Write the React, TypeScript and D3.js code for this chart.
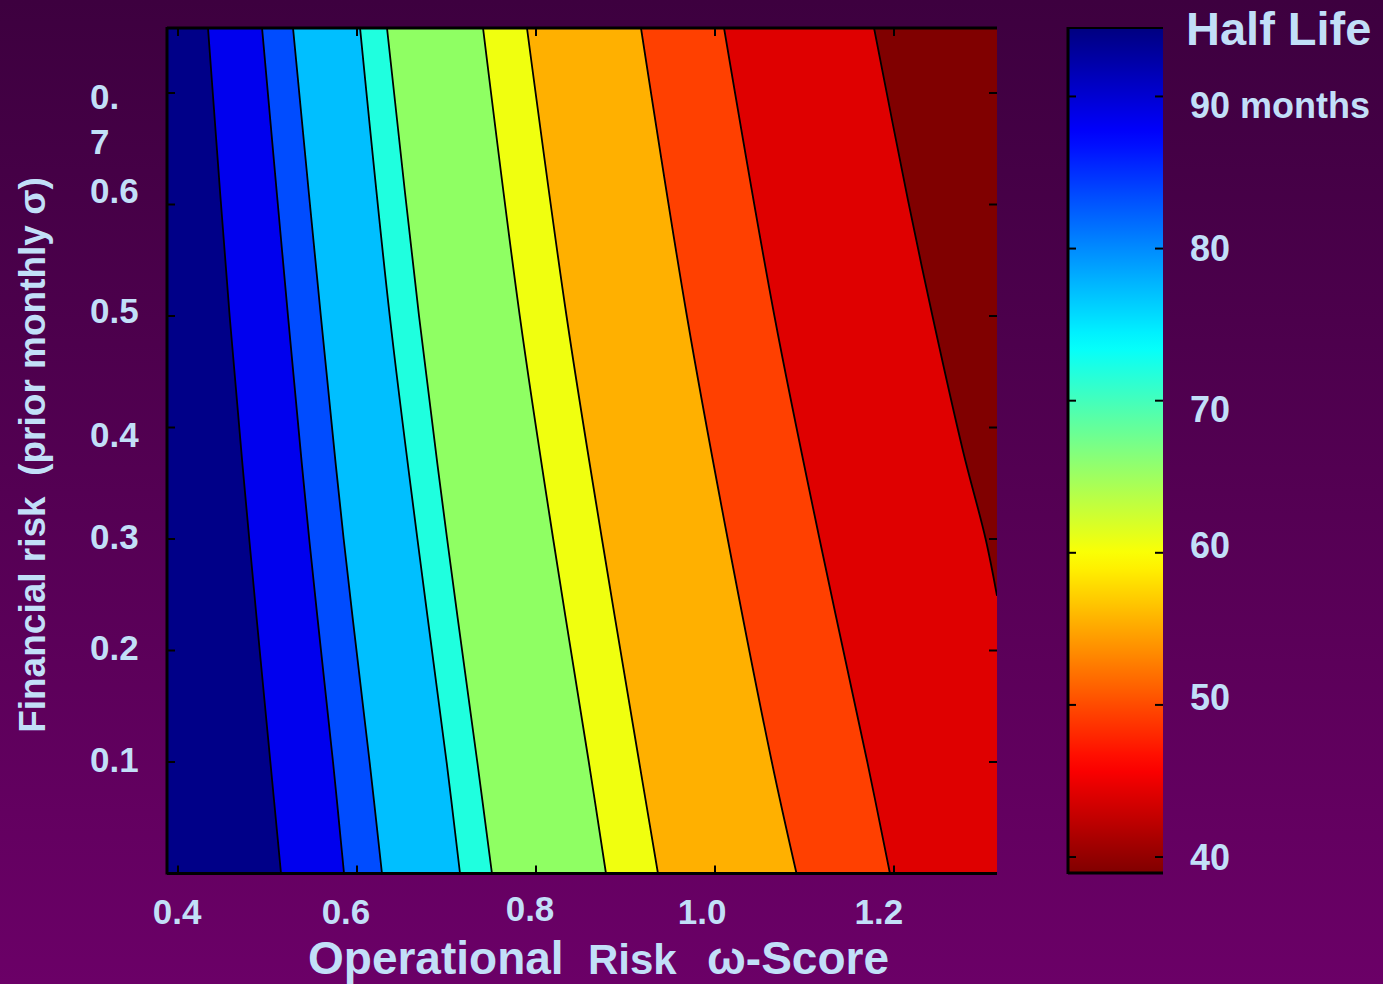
import React from 'react';
import * as d3 from 'd3';

// ---- data ----
// contour boundaries: omega (x) at given sigma (y) levels
const sigmaLevels = [0, 0.1, 0.3, 0.5, 0.7583];
const boundary1 = [0.5151, 0.5032, 0.4796, 0.4577, 0.4335];
const boundary2 = [0.5855, 0.5732, 0.5466, 0.5229, 0.4939];
const boundary3 = [0.6279, 0.6141, 0.5851, 0.5596, 0.5285];
const boundary4 = [0.7151, 0.7001, 0.6675, 0.6366, 0.6034];
const boundary5 = [0.7508, 0.7344, 0.7007, 0.6693, 0.6335];
const boundary6 = [0.8782, 0.859, 0.8192, 0.7819, 0.7408];
const boundary7 = [0.9363, 0.9153, 0.8737, 0.8341, 0.7899];
const boundary8 = [1.0911, 1.0635, 1.0142, 0.9686, 0.9173];
const boundary9 = [1.1955, 1.1702, 1.1168, 1.0664, 1.0101];
const boundary10Sigma = [0.249, 0.3, 0.379, 0.5, 0.604, 0.7583];
const boundary10 = [1.3151, 1.3024, 1.2771, 1.243, 1.2156, 1.1777];

// half-life bands, left (longest) to right (shortest)
const bandColors = [
  '#000088', '#0000EE', '#004CFF', '#00BFFF', '#1FFFDF', '#8FFF63',
  '#F0FF0F', '#FFB000', '#FF4000', '#DF0000', '#800000',
];

const xTicks = [0.4, 0.6, 0.8, 1.0, 1.2];
const xTickLabels = ['0.4', '0.6', '0.8', '1.0', '1.2'];
const xLabelAt = [0.3989, 0.5877, 0.7933, 0.9855, 1.1832];
const xLabelBaselineShift = [0, 0, -3, 0, 0];

const yTicks = [0.1, 0.2, 0.3, 0.4, 0.5, 0.6, 0.7];
const yTickLabels = ['0.1', '0.2', '0.3', '0.4', '0.5', '0.6', '0.7'];
const yLabelAt = [0.102, 0.203, 0.302, 0.394, 0.5045, 0.613, 0.697];

const cbTicks = [40, 50, 60, 70, 80, 90];
const cbTickLabels = ['40', '50', '60', '70', '80', '90 months'];
const cbLabelAt = [40, 50.5, 60.5, 69.4, 80, 89.4];
const cbDomain = [38.95, 94.5];

const xDomain = [0.3877, 1.3151];
const yDomain = [0, 0.7583];

const textColor = '#C2DFF8';
const font = '"Liberation Sans", Arial, sans-serif';

function jet(t: number): string {
  const c = (v: number) => Math.max(0, Math.min(1, v));
  const r = c(1.5 - Math.abs(4 * t - 3));
  const g = c(1.5 - Math.abs(4 * t - 2));
  const b = c(1.5 - Math.abs(4 * t - 1));
  return d3.rgb(r * 255, g * 255, b * 255).formatHex();
}

export default function App() {
  const W = 1383, H = 984;
  const left = 167, right = 997, top = 28, bottom = 873.5;
  const x = d3.scaleLinear().domain(xDomain).range([left, right]);
  const y = d3.scaleLinear().domain(yDomain).range([bottom, top]);
  const cbLeft = 1068, cbRight = 1163;
  const cb = d3.scaleLinear().domain(cbDomain).range([873, 28]);

  const boundaries: [number, number][][] = [
    boundary1, boundary2, boundary3, boundary4, boundary5,
    boundary6, boundary7, boundary8, boundary9,
  ].map((b) => b.map((w, i) => [w, sigmaLevels[i]] as [number, number]));
  boundaries.push(boundary10.map((w, i) => [w, boundary10Sigma[i]] as [number, number]));

  const line = d3
    .line<[number, number]>()
    .x((d) => x(d[0]))
    .y((d) => y(d[1]))
    .curve(d3.curveCatmullRom.alpha(0.5));

  const fillPath = (pts: [number, number][]) =>
    `${line(pts)}L${right + 5},${top}L${right + 5},${y(pts[0][1])}Z`;

  const gradStops = d3.range(0, 1.0001, 0.02);

  const tickLen = 8;

  return (
    <svg
      width={W}
      height={H}
      style={{ position: 'absolute', left: 0, top: 0, display: 'block' }}
      fontFamily={font}
      fontWeight="bold"
    >
      <defs>
        <linearGradient id="bg" x1="0" y1="0" x2="0" y2="1">
          <stop offset="0" stopColor="#3D003F" />
          <stop offset="1" stopColor="#6B0067" />
        </linearGradient>
        <linearGradient id="jet" x1="0" y1="0" x2="0" y2="1">
          {gradStops.map((t) => (
            <stop key={t} offset={t} stopColor={jet(t)} />
          ))}
        </linearGradient>
        <clipPath id="plotClip">
          <rect x={left} y={top} width={right - left} height={bottom - top} />
        </clipPath>
      </defs>
      <rect x={0} y={0} width={W} height={H} fill="url(#bg)" />

      {/* contour bands */}
      <g clipPath="url(#plotClip)">
        <rect x={left} y={top} width={right - left} height={bottom - top} fill={bandColors[0]} />
        {boundaries.map((pts, i) => (
          <path key={'f' + i} d={fillPath(pts)} fill={bandColors[i + 1]} />
        ))}
        {boundaries.map((pts, i) => (
          <path key={'l' + i} d={line(pts) || ''} fill="none" stroke="#000" strokeWidth={1.8} />
        ))}
      </g>

      {/* frame */}
      <line x1={left} x2={left} y1={top - 1} y2={bottom + 1} stroke="#000" strokeWidth={3} />
      <line x1={left} x2={right} y1={top} y2={top} stroke="#000" strokeWidth={3} />
      <line x1={left} x2={right} y1={bottom} y2={bottom} stroke="#000" strokeWidth={3} />
      {xTicks.map((t) => (
        <g key={'xt' + t}>
          <line x1={x(t)} x2={x(t)} y1={bottom} y2={bottom - tickLen} stroke="#000" strokeWidth={2} />
          <line x1={x(t)} x2={x(t)} y1={top} y2={top + tickLen} stroke="#000" strokeWidth={2} />
        </g>
      ))}
      {yTicks.map((t) => (
        <g key={'yt' + t}>
          <line x1={left} x2={left + tickLen} y1={y(t)} y2={y(t)} stroke="#000" strokeWidth={2} />
          <line x1={right} x2={right - tickLen} y1={y(t)} y2={y(t)} stroke="#000" strokeWidth={2} />
        </g>
      ))}

      {/* x tick labels */}
      {xTickLabels.map((lab, i) => (
        <text
          key={'xl' + i}
          x={x(xLabelAt[i])}
          y={924 + xLabelBaselineShift[i]}
          textAnchor="middle"
          fontSize={35}
          fill={textColor}
        >
          {lab}
        </text>
      ))}

      {/* y tick labels */}
      {yTickLabels.map((lab, i) =>
        lab === '0.7' ? (
          <text key={'yl' + i} x={90} y={y(yLabelAt[i]) + 12.5} fontSize={35} fill={textColor}>
            <tspan x={90}>0.</tspan>
            <tspan x={90} dy={45}>7</tspan>
          </text>
        ) : (
          <text key={'yl' + i} x={90} y={y(yLabelAt[i]) + 12.5} fontSize={35} fill={textColor}>
            {lab}
          </text>
        )
      )}

      {/* axis titles */}
      <text y={974} fill={textColor}>
        <tspan x={308} fontSize={46}>Operational</tspan>
        <tspan x={588} fontSize={42}>Risk</tspan>
        <tspan x={707} fontSize={46}>ω-Score</tspan>
      </text>
      <text
        transform="translate(45,455) rotate(-90)"
        textAnchor="middle"
        fontSize={37}
        fill={textColor}
        style={{ whiteSpace: 'pre' }}
      >
        Financial risk  (prior monthly σ)
      </text>

      {/* colorbar */}
      <rect x={cbLeft} y={28} width={cbRight - cbLeft} height={845} fill="url(#jet)" />
      <line x1={cbLeft} x2={cbLeft} y1={27} y2={874} stroke="#000" strokeWidth={3} />
      <line x1={cbLeft} x2={cbRight} y1={28} y2={28} stroke="#000" strokeWidth={2} />
      <line x1={cbLeft} x2={cbRight} y1={873} y2={873} stroke="#000" strokeWidth={3} />
      {cbTicks.map((t) => (
        <g key={'ct' + t}>
          <line x1={cbLeft} x2={cbLeft + tickLen} y1={cb(t)} y2={cb(t)} stroke="#000" strokeWidth={2} />
          <line x1={cbRight} x2={cbRight - tickLen} y1={cb(t)} y2={cb(t)} stroke="#000" strokeWidth={2} />
        </g>
      ))}
      {cbTickLabels.map((lab, i) => (
        <text key={'cl' + i} x={1190} y={cb(cbLabelAt[i]) + 12.5} fontSize={36} fill={textColor}>
          {lab}
        </text>
      ))}
      <text x={1186} y={45} fontSize={47} fill={textColor}>
        Half Life
      </text>
    </svg>
  );
}
